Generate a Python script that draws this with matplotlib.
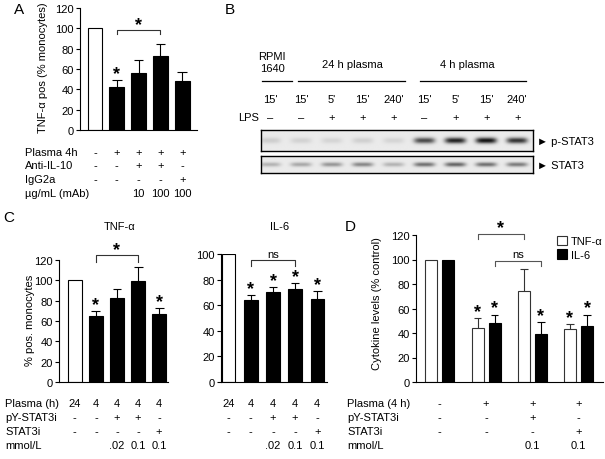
import numpy as np
import matplotlib
matplotlib.use("Agg")
import matplotlib.pyplot as plt
from matplotlib.transforms import Affine2D, blended_transform_factory, offset_copy
from matplotlib.patches import Patch

# ---------------- data ----------------
# Panel A
a_vals = [100, 42, 56, 73, 48]
a_errs = [0, 7, 13, 12, 9]
a_colors = ["white", "black", "black", "black", "black"]
a_rows = ["Plasma 4h", "Anti-IL-10", "IgG2a", "\u00b5g/mL (mAb)"]
a_table = [["-", "+", "+", "+", "+"],
           ["-", "-", "+", "+", "-"],
           ["-", "-", "-", "-", "+"],
           ["", "", "10", "100", "100"]]
a_stars = [1]

# Panel B (western blot band intensities, 0..1)
b_lane_times = ["15'", "15'", "5'", "15'", "240'", "15'", "5'", "15'", "240'"]
b_lps = ["\u2013", "\u2013", "+", "+", "+", "\u2013", "+", "+", "+"]
b_pstat3 = [0.13, 0.11, 0.10, 0.12, 0.10, 0.72, 0.90, 0.97, 0.82]
b_stat3 = [0.25, 0.30, 0.38, 0.45, 0.25, 0.55, 0.60, 0.55, 0.50]

# Panel C
c_tnf_vals = [100, 65, 83, 99, 67]
c_tnf_errs = [0, 5, 8, 14, 6]
c_il6_vals = [100, 64, 70, 73, 65]
c_il6_errs = [0, 4, 4, 4, 6]
c_colors = ["white", "black", "black", "black", "black"]
c_rows = ["Plasma (h)", "pY-STAT3i", "STAT3i", "mmol/L"]
c_table = [["24", "4", "4", "4", "4"],
           ["-", "-", "+", "+", "-"],
           ["-", "-", "-", "-", "+"],
           ["", "", ".02", "0.1", "0.1"]]
c_tnf_stars = [1, 4]
c_il6_stars = [1, 2, 3, 4]

# Panel D
d_tnf_vals = [100, 44, 74, 43]
d_tnf_errs = [0, 8, 18, 4]
d_il6_vals = [100, 48, 39, 46]
d_il6_errs = [0, 7, 10, 9]
d_rows = ["Plasma (4 h)", "pY-STAT3i", "STAT3i", "mmol/L"]
d_table = [["-", "+", "+", "+"],
           ["-", "-", "+", "-"],
           ["-", "-", "-", "+"],
           ["", "", "0.1", "0.1"]]
d_tnf_stars = [1, 3]
d_il6_stars = [1, 2, 3]

# ---------------- setup ----------------
W, H = 605, 460
plt.rcParams["font.family"] = ["Liberation Sans", "DejaVu Sans"]
plt.rcParams["font.size"] = 8
fig = plt.figure(figsize=(W / 100, H / 100), dpi=100)
PX = Affine2D().scale(1 / W, -1 / H).translate(0, 1) + fig.transFigure
LW = 0.8


def add_ax(x0, x1, ytop, ybot):
    return fig.add_axes([x0 / W, 1 - ybot / H, (x1 - x0) / W, (ybot - ytop) / H])


def style(ax, ymax, step, xlim):
    for s in ["top", "right"]:
        ax.spines[s].set_visible(False)
    for s in ["left", "bottom"]:
        ax.spines[s].set_linewidth(LW)
    ax.set_xticks([])
    ax.set_yticks(np.arange(0, ymax + 1, step))
    ax.set_ylim(0, ymax)
    ax.set_xlim(*xlim)
    ax.tick_params(axis="y", direction="out", length=3, width=LW, pad=1.5, labelsize=8)


def bars(ax, x, vals, errs, w, colors, edge="black", ecol="black"):
    x = np.asarray(x, float)
    vals = np.asarray(vals, float)
    errs = np.asarray(errs, float)
    ax.bar(x, vals, w, color=colors, edgecolor=edge, linewidth=LW, zorder=2)
    m = errs > 0
    ax.vlines(x[m], vals[m], vals[m] + errs[m], color=ecol, lw=LW, zorder=3)
    ax.hlines(vals[m] + errs[m], x[m] - 0.32 * w, x[m] + 0.32 * w, color=ecol, lw=LW, zorder=3)


def stars(ax, x, tops, idx, dy=1.5):
    tr = offset_copy(ax.transData, fig=fig, y=dy, units="points")
    for i in idx:
        ax.text(x[i], tops[i], "*", ha="center", va="baseline", fontsize=13,
                fontweight="bold", transform=tr, clip_on=False)


def bracket(ax, x1, x2, y, drop, label, col="#333333", fs=8, bold=False, dy=2):
    ax.plot([x1, x1, x2, x2], [y - drop, y, y, y - drop], color=col, lw=LW, clip_on=False)
    tr = offset_copy(ax.transData, fig=fig, y=dy, units="points")
    ax.text((x1 + x2) / 2, y, label, ha="center", va="bottom", transform=tr,
            fontsize=fs, fontweight="bold" if bold else "normal", clip_on=False)


def table(ax, xs, rows, ys, labels=None, labelx=None):
    tr = blended_transform_factory(ax.transData, PX)
    for r, y in zip(rows, ys):
        for x, s in zip(xs, r):
            ax.text(x, y, s, ha="center", va="center", transform=tr, fontsize=8)
    if labels is not None:
        for lab, y in zip(labels, ys):
            fig.text(labelx, y, lab, ha="left", va="center", transform=PX, fontsize=8)


# ---------------- Panel A ----------------
axA = add_ax(80, 197, 9, 131)
xa = np.arange(len(a_vals))
style(axA, 120, 20, (-0.69, 4.68))
bars(axA, xa, a_vals, a_errs, 0.68, a_colors)
tops_a = np.array(a_vals) + np.array(a_errs)
stars(axA, xa, tops_a, a_stars)
bracket(axA, 1, 3, 98, 4, "*", fs=13, bold=True, dy=-2)
table(axA, xa, a_table, [153, 166, 180, 194], a_rows, 25)
fig.text(43, 68, "TNF-\u03b1 pos (% monocytes)", rotation=90, ha="center", va="center",
         transform=PX, fontsize=8)
fig.text(19, 10, "A", ha="center", va="center", transform=PX, fontsize=11)

# ---------------- Panel B ----------------
fig.text(230, 10, "B", ha="center", va="center", transform=PX, fontsize=11)
lanes = np.arange(len(b_pstat3))
bxlim = (-0.29, 8.51)


def blot(ytop, ybot, inten, sig):
    ax = add_ax(261, 533, ytop, ybot)
    xs = np.linspace(bxlim[0], bxlim[1], 600)
    ys = np.linspace(0, 1, 80)
    X, Y = np.meshgrid(xs, ys)
    img = np.zeros_like(X)
    for l, v in zip(lanes, inten):
        img += v * np.exp(-((X - l) / 0.34) ** 4) * np.exp(-((Y - 0.5) / sig) ** 2)
    bg = 0.92
    img = bg - np.clip(img, 0, 1) * (bg - 0.04)
    ax.imshow(img, cmap="gray", vmin=0, vmax=1, extent=[bxlim[0], bxlim[1], 0, 1],
              aspect="auto", interpolation="bilinear")
    ax.set_xlim(*bxlim)
    ax.set_ylim(0, 1)
    ax.set_xticks([])
    ax.set_yticks([])
    for s in ax.spines.values():
        s.set_linewidth(1.0)
    return ax


axB1 = blot(131, 152, b_pstat3, 0.14)
axB2 = blot(157, 174, b_stat3, 0.13)
trB = blended_transform_factory(axB1.transData, PX)
for l, t, s in zip(lanes, b_lane_times, b_lps):
    axB1.text(l, 100, t, ha="center", va="center", transform=trB, fontsize=8)
    axB1.text(l, 118, s, ha="center", va="center", transform=trB, fontsize=8)
fig.text(238, 118, "LPS", ha="left", va="center", transform=PX, fontsize=8)
fig.text(272, 63, "RPMI\n1640", ha="center", va="center", transform=PX, fontsize=8,
         linespacing=1.2)
fig.text(352, 65, "24 h plasma", ha="center", va="center", transform=PX, fontsize=8)
fig.text(467, 65, "4 h plasma", ha="center", va="center", transform=PX, fontsize=8)
for x0, x1 in [(262, 292), (298, 405), (420, 526)]:
    fig.add_artist(plt.Line2D([x0, x1], [82, 82], transform=PX, color="black", lw=0.9))
fig.text(537, 142, "\u25ba p-STAT3", ha="left", va="center", transform=PX, fontsize=8)
fig.text(537, 166, "\u25ba STAT3", ha="left", va="center", transform=PX, fontsize=8)

# ---------------- Panel C (TNF-a) ----------------
fig.text(9, 218, "C", ha="center", va="center", transform=PX, fontsize=11)
axC1 = add_ax(59, 168, 261, 383)
xc = np.arange(len(c_tnf_vals))
style(axC1, 120, 20, (-0.75, 4.42))
bars(axC1, xc, c_tnf_vals, c_tnf_errs, 0.66, c_colors)
stars(axC1, xc, np.array(c_tnf_vals) + np.array(c_tnf_errs), c_tnf_stars)
bracket(axC1, 1, 3, 125, 7, "*", fs=13, bold=True, dy=-2)
table(axC1, xc, c_table, [404, 418, 432, 446], c_rows, 5)
fig.text(30, 320, "% pos. monocytes", rotation=90, ha="center", va="center",
         transform=PX, fontsize=8)
fig.text(120, 227, "TNF-\u03b1", ha="center", va="center", transform=PX, fontsize=8)

# ---------------- Panel C (IL-6) ----------------
axC2 = add_ax(221, 327, 255, 383)
style(axC2, 100, 20, (-0.35, 4.44))
bars(axC2, xc, c_il6_vals, c_il6_errs, 0.6, c_colors)
stars(axC2, xc, np.array(c_il6_vals) + np.array(c_il6_errs), c_il6_stars)
bracket(axC2, 1, 3, 95, 4, "ns", dy=1)
table(axC2, xc, c_table, [404, 418, 432, 446])
fig.text(280, 227, "IL-6", ha="center", va="center", transform=PX, fontsize=8)

# ---------------- Panel D ----------------
fig.text(350, 227, "D", ha="center", va="center", transform=PX, fontsize=11)
axD = add_ax(416, 603, 236, 383)
xd = np.arange(len(d_tnf_vals))
style(axD, 120, 20, (-0.515, 3.53))
off, wd = 0.184, 0.26
bars(axD, xd - off, d_tnf_vals, d_tnf_errs, wd, "white", edge="#333333", ecol="#333333")
bars(axD, xd + off, d_il6_vals, d_il6_errs, wd, "black")
stars(axD, xd - off, np.array(d_tnf_vals) + np.array(d_tnf_errs), d_tnf_stars)
stars(axD, xd + off, np.array(d_il6_vals) + np.array(d_il6_errs), d_il6_stars)
bracket(axD, 1 - off, 2 - off, 121, 4, "*", col="#555555", fs=13, bold=True, dy=-2)
bracket(axD, 1 + off, 2 + off, 99, 4.5, "ns", col="#555555", dy=1)
table(axD, xd, d_table, [404, 418, 432, 446], d_rows, 347)
fig.text(377, 304, "Cytokine levels (% control)", rotation=90, ha="center", va="center",
         transform=PX, fontsize=8)
axD.legend(handles=[Patch(facecolor="white", edgecolor="#333333", lw=LW),
                    Patch(facecolor="black", edgecolor="black", lw=LW)],
           labels=["TNF-\u03b1", "IL-6"], loc="upper left",
           bbox_to_anchor=(551 / W, 1 - 231 / H), bbox_transform=fig.transFigure,
           frameon=False, borderpad=0, handlelength=0.9, handleheight=0.9,
           handletextpad=0.4, labelspacing=0.3, fontsize=8)

fig.savefig("out.png", dpi=100)
